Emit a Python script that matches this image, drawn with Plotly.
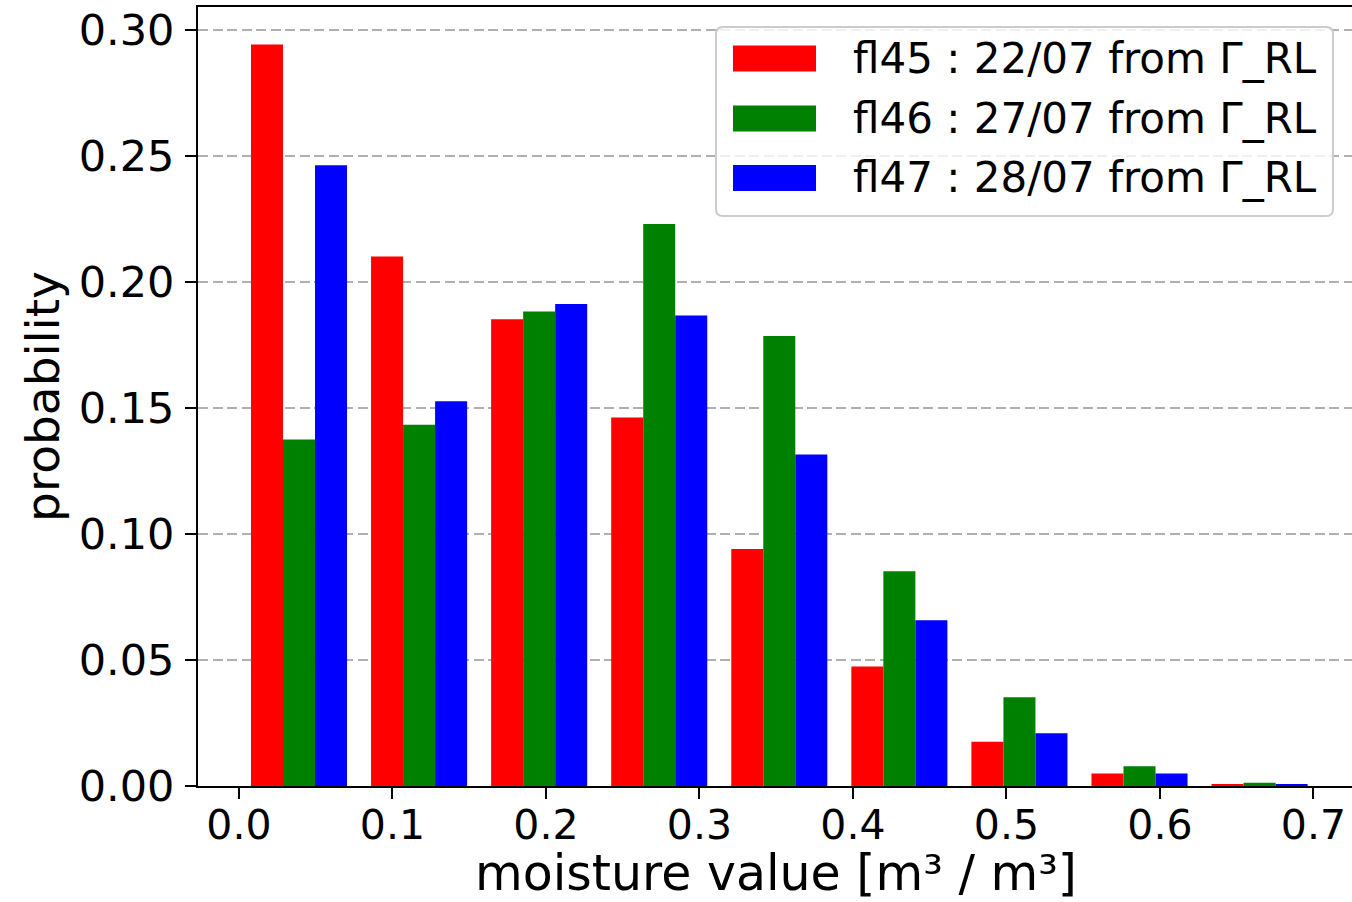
import numpy as np
import plotly.graph_objects as go

# Histogram of soil moisture for three flights (probability per bin)
bin_edges = np.linspace(0.0, 0.704, 10)
bin_centers = 0.5 * (bin_edges[:-1] + bin_edges[1:])

fl45 = [0.2942, 0.2101, 0.1852, 0.1462, 0.0940, 0.0474, 0.0176, 0.0050, 0.0005]
fl46 = [0.1375, 0.1433, 0.1883, 0.2230, 0.1786, 0.0852, 0.0352, 0.0078, 0.0013]
fl47 = [0.2463, 0.1527, 0.1913, 0.1867, 0.1315, 0.0658, 0.0209, 0.0050, 0.0005]

series_labels = ["fl45 : 22/07 from Γ_RL", "fl46 : 27/07 from Γ_RL", "fl47 : 28/07 from Γ_RL"]
series_colors = ["#ff0000", "#008000", "#0000ff"]

x_ticks = [0.0, 0.1, 0.2, 0.3, 0.4, 0.5, 0.6, 0.7]
y_ticks = [0.00, 0.05, 0.10, 0.15, 0.20, 0.25, 0.30]
x_title = "moisture value [m³ / m³]"
y_title = "probability"

FONT = "DejaVu Sans"
W, H = 1352, 902
ML, MR, MT, MB = 198, 0, 7, 116

fig = go.Figure()
for vals, name, col in zip([fl45, fl46, fl47], series_labels, series_colors):
    fig.add_trace(go.Bar(x=bin_centers, y=vals, name=name,
                         marker=dict(color=col, line=dict(width=0)),
                         showlegend=False))

fig.update_layout(
    width=W, height=H,
    margin=dict(l=ML, r=MR, t=MT, b=MB, autoexpand=False),
    paper_bgcolor="white", plot_bgcolor="white",
    barmode="group", bargap=0.2, bargroupgap=0.0,
    font=dict(family=FONT, color="black"),
)

fig.update_xaxes(
    range=[-0.0267, 0.7251], tickvals=x_ticks, ticktext=[f"{v:.1f}" for v in x_ticks],
    showgrid=False, zeroline=False,
    showline=True, linecolor="black", linewidth=2, mirror=True,
    ticks="outside", ticklen=11, tickwidth=2, tickcolor="black",
    tickfont=dict(size=41, family=FONT), ticklabelstandoff=-9,
)
fig.update_yaxes(
    range=[0, 0.3091], tickvals=y_ticks, ticktext=[f"{v:.2f}" for v in y_ticks],
    showgrid=True, gridcolor="#b0b0b0", gridwidth=1.5, griddash="10px,4.5px",
    zeroline=False,
    showline=True, linecolor="black", linewidth=2, mirror=False,
    ticks="outside", ticklen=11, tickwidth=2, tickcolor="black",
    tickfont=dict(size=43, family=FONT), ticklabelstandoff=2,
    title=dict(text=y_title, font=dict(size=47, family=FONT), standoff=4),
)

# Pixel-to-paper helpers for items placed relative to the plot area
pw, ph = W - ML - MR, H - MT - MB


def px(x):
    return (x - ML) / pw


def py(y):
    return (H - MB - y) / ph


# x-axis title, set below the tick labels
fig.add_annotation(xref="paper", yref="paper", x=px(776), y=py(873),
                   xanchor="center", yanchor="middle", showarrow=False, borderpad=0,
                   text=x_title, font=dict(size=49, family=FONT, color="black"))


def rounded_box(x0, y0, x1, y1, r):
    rx, ry = r / pw, r / ph
    X0, X1, Y0, Y1 = px(x0), px(x1), py(y1), py(y0)
    return (f"M {X0+rx},{Y0} L {X1-rx},{Y0} Q {X1},{Y0} {X1},{Y0+ry} "
            f"L {X1},{Y1-ry} Q {X1},{Y1} {X1-rx},{Y1} L {X0+rx},{Y1} "
            f"Q {X0},{Y1} {X0},{Y1-ry} L {X0},{Y0+ry} Q {X0},{Y0} {X0+rx},{Y0} Z")


# Legend: frame, colour patches and labels
fig.add_shape(type="path", xref="paper", yref="paper",
              path=rounded_box(716, 27, 1333, 216, 7),
              fillcolor="rgba(255,255,255,0.8)", line=dict(color="#cccccc", width=2),
              layer="above")

row_centers = [58.5, 118.5, 178]
for yc, name, col in zip(row_centers, series_labels, series_colors):
    fig.add_shape(type="rect", xref="paper", yref="paper",
                  x0=px(733), x1=px(816), y0=py(yc + 13), y1=py(yc - 13),
                  fillcolor=col, line=dict(width=0), layer="above")
    fig.add_annotation(xref="paper", yref="paper", x=px(851), y=py(yc),
                       xanchor="left", yanchor="middle", showarrow=False,
                       text=name, font=dict(size=42, family=FONT, color="black"))

fig.write_html("out.html")
